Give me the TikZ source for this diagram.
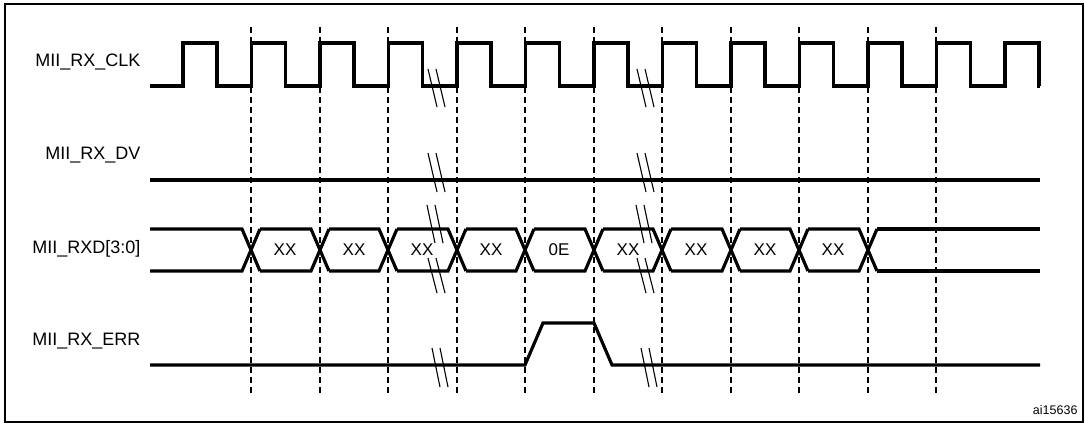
\documentclass[tikz,border=0pt]{standalone}
\usepackage{fontspec}
\setmainfont{Liberation Sans}
\begin{document}
\begin{tikzpicture}[x=1pt,y=-1pt,
  sig/.style={line width=3.2pt,line join=miter},
  grid/.style={line width=1.4pt,dash pattern=on 6pt off 4pt},
  brk/.style={line width=1.1pt},
  lbl/.style={anchor=east,font=\fontsize{18}{20}\selectfont},
  val/.style={font=\fontsize{17}{19}\selectfont}]
\useasboundingbox (0,0) rectangle (1085,423);
\draw[line width=1.4pt] (5,4) rectangle (1083,422);
% grid
\foreach \x in {251,320,388,457,525,594,662,731,799,868,936}
  \draw[grid] (\x,27) -- (\x,393);
% labels
\node[lbl] (lclk) at (144,62) {MII\_RX\_CLK};
\node[lbl] (ldv) at (144,155) {MII\_RX\_DV};
\node[lbl] (lrxd) at (144,249) {MII\_RXD[3:0]};
\node[lbl] (lerr) at (144,341) {MII\_RX\_ERR};
\node[anchor=east,font=\fontsize{12.5}{14}\selectfont] (ai) at (1081,410) {ai15636};
% clock
\draw[sig] (150,86) -- (183,86)
  \foreach \k in {0,...,12}{ -- ({183+68.5*\k},86) -- ({183+68.5*\k},43) -- ({217+68.5*\k},43) -- ({217+68.5*\k},86) }
  -- (1040,86);
% DV
\draw[sig] (150,180) -- (1040,180);
% RXD bus
\draw[sig] (150,229) -- (242,229) -- (260,271);
\draw[sig] (150,271) -- (242,271) -- (260,229);
\foreach \a/\b in {251/320,320/388,388/457,457/525,525/594,594/662,662/731,731/799,799/868}{
  \draw[sig] ({\a+9},229) -- ({\b-9},229) -- ({\b+9},271);
  \draw[sig] ({\a+9},271) -- ({\b-9},271) -- ({\b+9},229);
}
\draw[sig] (877,229) -- (1040,229);
\draw[sig] (877,271) -- (1040,271);
\foreach \a/\t/\n in {251/XX/v1,320/XX/v2,388/XX/v3,457/XX/v4,525/0E/v5,594/XX/v6,662/XX/v7,731/XX/v8,799/XX/v9}
  \node[val] (\n) at ({\a+34},250) {\t};
% ERR
\draw[sig] (150,365) -- (525,365) -- (543,323) -- (594,323) -- (612,365) -- (1040,365);
% breaks
\foreach \bx in {428,637}{
  \draw[brk] (\bx,69) -- (\bx+9,107); \draw[brk] (\bx+8,69) -- (\bx+17,107);
  \draw[brk] (\bx,153) -- (\bx+9,192); \draw[brk] (\bx+8,153) -- (\bx+17,192);
  \draw[brk] (\bx-1,205) -- (\bx+7,243); \draw[brk] (\bx+7,205) -- (\bx+15,243);
  \draw[brk] (\bx,258) -- (\bx+9,293); \draw[brk] (\bx+8,258) -- (\bx+17,293);
  \draw[brk] (\bx+4,348) -- (\bx+12,387); \draw[brk] (\bx+12,348) -- (\bx+20,387);
}
\end{tikzpicture}
\end{document}
